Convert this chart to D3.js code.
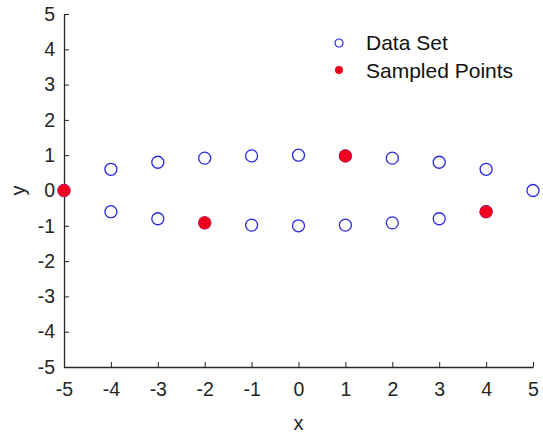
<!DOCTYPE html>
<html>
<head>
<meta charset="utf-8">
<script src="https://cdn.jsdelivr.net/npm/d3@7"></script>
<style>
  body { margin: 0; background: #fff; }
  svg { display: block; }
</style>
</head>
<body>
<svg id="chart" width="543" height="435"></svg>
<script>
// data set: x and y of the open blue circles
var dataX = [-5, -4, -3, -2, -1, 0, 1, 2, 3, 4, 5,
             -4, -3, -2, -1, 0, 1, 2, 3, 4];
var dataY = [0, 0.6, 0.8, 0.917, 0.98, 1, 0.98, 0.917, 0.8, 0.6, 0,
             -0.6, -0.8, -0.917, -0.98, -1, -0.98, -0.917, -0.8, -0.6];

// sampled points (filled red)
var sampX = [-5, -2, 1, 4];
var sampY = [0, -0.917, 0.98, -0.6];

var tickVals = [-5, -4, -3, -2, -1, 0, 1, 2, 3, 4, 5];
var legendLabels = ["Data Set", "Sampled Points"];

var margin = { top: 14, right: 10, bottom: 68, left: 64 },
  width = 533 - margin.left,
  height = 367 - margin.top;

var x = d3.scaleLinear().domain([-5, 5]).range([0, width]);
var y = d3.scaleLinear().domain([-5, 5]).range([height, 0]);

var svg = d3.select("#chart")
  .append("g")
  .attr("transform", "translate(" + margin.left + "," + margin.top + ")");

var axisColor = "#262626";
var font = "'Liberation Sans', Arial, sans-serif";
var fmt = function(d) { return String(d); }; // plain hyphen minus like the original

var xAxis = d3.axisBottom(x).tickValues(tickVals).tickFormat(fmt)
  .tickSize(-5).tickPadding(12).tickSizeOuter(0);
var yAxis = d3.axisLeft(y).tickValues(tickVals).tickFormat(fmt)
  .tickSize(-5).tickPadding(9).tickSizeOuter(0);

var gx = svg.append("g").attr("transform", "translate(0," + height + ")").call(xAxis);
var gy = svg.append("g").call(yAxis);

[gx, gy].forEach(function(g) {
  g.select(".domain").attr("stroke", axisColor).attr("stroke-width", 1.3);
  g.selectAll(".tick line").attr("stroke", axisColor).attr("stroke-width", 1);
  g.selectAll(".tick text")
    .attr("fill", axisColor)
    .style("font-family", font)
    .style("font-size", "19.5px");
});
gx.selectAll(".tick text").attr("dy", "0.85em");

// axis labels
svg.append("text")
  .attr("x", width / 2)
  .attr("y", height + 63)
  .attr("text-anchor", "middle")
  .attr("fill", axisColor)
  .style("font-family", font)
  .style("font-size", "20px")
  .text("x");

svg.append("text")
  .attr("transform", "translate(" + (-39) + "," + (height / 2) + ") rotate(-90)")
  .attr("text-anchor", "middle")
  .attr("fill", axisColor)
  .style("font-family", font)
  .style("font-size", "20px")
  .text("y");

// data set circles
svg.selectAll(".dataPt")
  .data(dataX.map(function(d, i) { return { x: d, y: dataY[i] }; }))
  .enter()
  .append("circle")
  .attr("class", "dataPt")
  .attr("cx", function(d) { return x(d.x); })
  .attr("cy", function(d) { return y(d.y); })
  .attr("r", 6)
  .attr("fill", "none")
  .attr("stroke", "#2a2ae6")
  .attr("stroke-width", 1.3);

// sampled points
svg.selectAll(".sampPt")
  .data(sampX.map(function(d, i) { return { x: d, y: sampY[i] }; }))
  .enter()
  .append("circle")
  .attr("class", "sampPt")
  .attr("cx", function(d) { return x(d.x); })
  .attr("cy", function(d) { return y(d.y); })
  .attr("r", 6.5)
  .attr("fill", "#f0001e");

// legend
var legend = svg.append("g").attr("transform", "translate(275,29)");
legend.append("circle")
  .attr("cx", 0).attr("cy", 0).attr("r", 4)
  .attr("fill", "none").attr("stroke", "#2a2ae6").attr("stroke-width", 1.2);
legend.append("circle")
  .attr("cx", 0).attr("cy", 27).attr("r", 4)
  .attr("fill", "#f0001e");
legend.selectAll(".legText")
  .data(legendLabels)
  .enter()
  .append("text")
  .attr("class", "legText")
  .attr("x", 27)
  .attr("y", function(d, i) { return i * 28; })
  .attr("dy", "0.35em")
  .attr("fill", "#111")
  .style("font-family", font)
  .style("font-size", "21px")
  .text(function(d) { return d; });
</script>
</body>
</html>
